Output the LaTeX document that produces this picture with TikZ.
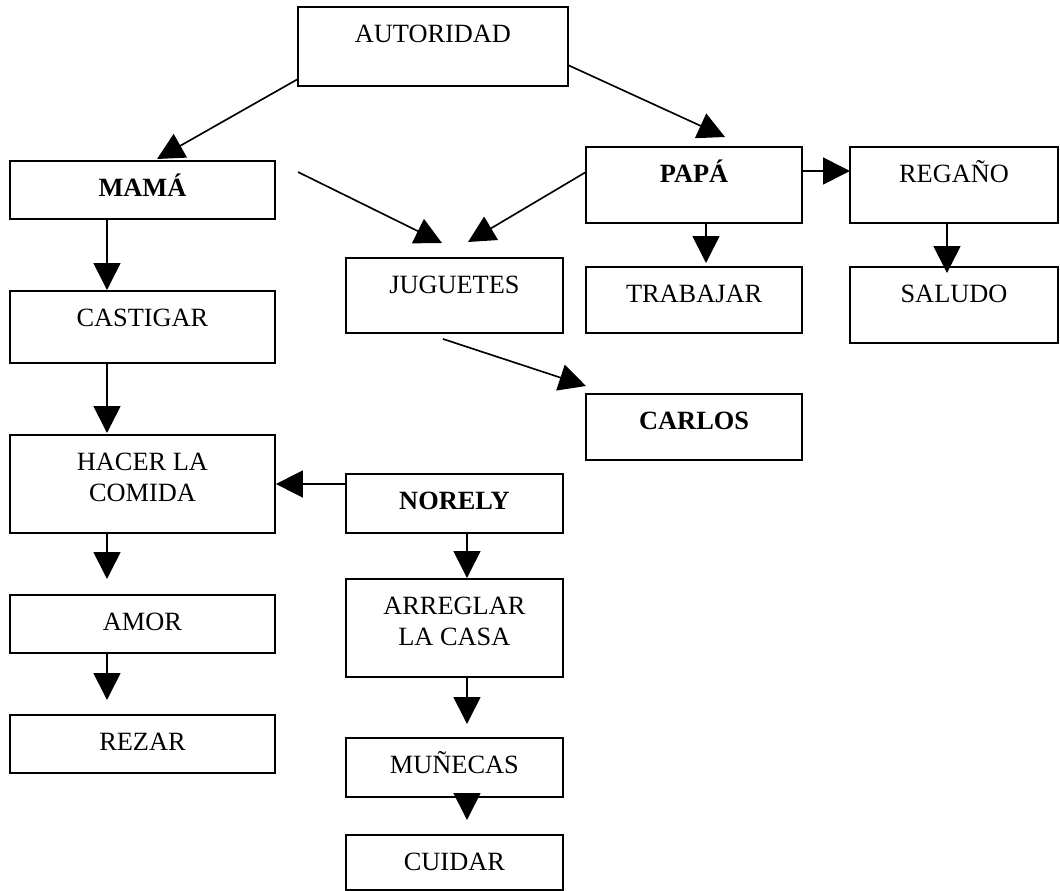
\documentclass[tikz,border=0pt]{standalone}
\usepackage{fontspec}
\setmainfont{Liberation Serif}
\usetikzlibrary{arrows.meta,calc}

\tikzset{
  caja/.style 2 args={draw, line width=0.9pt, rectangle, anchor=north west, align=center,
    inner ysep=0pt, outer sep=0pt, minimum width=#1, text height=0.571cm, text depth=#2,
    font=\fontsize{12}{14}\selectfont},
  doble/.style={text height=1.065cm},
  flecha/.style={line width=0.75pt, -{Triangle[length=0.43cm,width=0.43cm]}}
}

\begin{document}
\begin{tikzpicture}[x=0.016cm, y=-0.016cm]
    \useasboundingbox (0,0) rectangle (1060,891);

    % Boxes
    \node[caja={4.32cm}{0.693cm}] (aut) at (298,7) {AUTORIDAD};
    \node[caja={4.24cm}{0.357cm}] (mama) at (10,161) {\textbf{MAMÁ}};
    \node[caja={3.46cm}{0.645cm}] (papa) at (586,147) {\textbf{PAPÁ}};
    \node[caja={3.33cm}{0.645cm}] (regano) at (850,147) {REGAÑO};
    \node[caja={3.47cm}{0.629cm}] (jug) at (346,258) {JUGUETES};
    \node[caja={3.46cm}{0.485cm}] (trab) at (586,267) {TRABAJAR};
    \node[caja={3.33cm}{0.645cm}] (saludo) at (850,267) {SALUDO};
    \node[caja={4.24cm}{0.581cm}] (cast) at (10,291) {CASTIGAR};
    \node[caja={3.46cm}{0.485cm}] (carlos) at (586,394) {\textbf{CARLOS}};
    \node[caja={4.24cm}{0.503cm}, doble] (hacer) at (10,435) {HACER LA\\COMIDA};
    \node[caja={3.47cm}{0.373cm}] (norely) at (346,474) {\textbf{NORELY}};
    \node[caja={3.47cm}{0.503cm}, doble] (arreglar) at (346,579) {ARREGLAR\\LA CASA};
    \node[caja={4.24cm}{0.357cm}] (amor) at (10,595) {AMOR};
    \node[caja={4.24cm}{0.357cm}] (rezar) at (10,715) {REZAR};
    \node[caja={3.47cm}{0.373cm}] (munecas) at (346,738) {MUÑECAS};
    \node[caja={3.47cm}{0.309cm}] (cuidar) at (346,835) {CUIDAR};

    % Loose start of the arrow towards JUGUETES
    \coordinate (suelto) at (298,172);

    % Diagonal arrows
    \draw[flecha] ($(aut.south west)+(0,-7)$) -- ($(mama.north west)+(147,-2)$);
    \draw[flecha] ($(aut.north east)+(0,58)$) -- ($(papa.north west)+(139,-10)$);
    \draw[flecha] (suelto) -- ($(jug.north west)+(96,-15)$);
    \draw[flecha] ($(papa.north west)+(0,25)$) -- ($(jug.north west)+(122,-16)$);
    \draw[flecha] ($(jug.south west)+(97,6)$) -- ($(carlos.north west)+(0,-8)$);

    % Straight arrows
    \draw[flecha] ($(papa.north east)+(0,24)$) -- ($(regano.north west)+(0,24)$);
    \draw[flecha] ($(papa.south west)+(120,0)$) -- ($(trab.north west)+(120,-4)$);
    \draw[flecha] ($(regano.south west)+(97,0)$) -- ($(saludo.north west)+(97,6)$);
    \draw[flecha] ($(mama.south west)+(97,0)$) -- ($(cast.north west)+(97,-1)$);
    \draw[flecha] ($(cast.south west)+(97,0)$) -- ($(hacer.north west)+(97,-2)$);
    \draw[flecha] ($(hacer.south west)+(97,0)$) -- ($(amor.north west)+(97,-16)$);
    \draw[flecha] ($(amor.south west)+(97,0)$) -- ($(rezar.north west)+(97,-15)$);
    \draw[flecha] ($(norely.north west)+(0,10)$) -- ($(hacer.north east)+(1,49)$);
    \draw[flecha] ($(norely.south west)+(121,0)$) -- ($(arreglar.north west)+(121,-1)$);
    \draw[flecha] ($(arreglar.south west)+(121,0)$) -- ($(munecas.north west)+(121,-14)$);
    \draw[flecha] ($(munecas.south west)+(121,0)$) -- ($(cuidar.north west)+(121,-15)$);
\end{tikzpicture}
\end{document}
